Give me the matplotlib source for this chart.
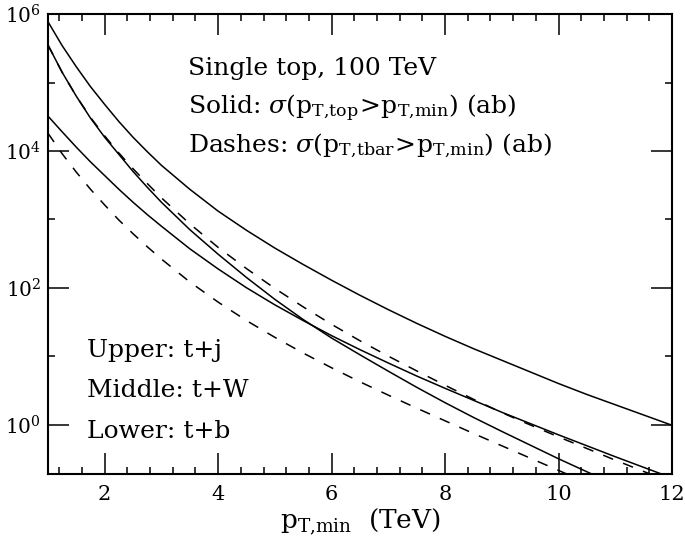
import numpy as np
import matplotlib
matplotlib.use('Agg')
import matplotlib.pyplot as plt
from matplotlib.ticker import FixedLocator, MultipleLocator, NullFormatter

plt.rcParams['font.family'] = 'DejaVu Serif'
plt.rcParams['mathtext.fontset'] = 'dejavuserif'

# pT,min grid (TeV) and log10(sigma / ab)
pt = [1.0, 1.25, 1.5, 1.75, 2.0, 2.25, 2.5, 2.75, 3.0, 3.5, 4.0, 4.5, 5.0, 5.5,
      6.0, 6.5, 7.0, 7.5, 8.0, 8.5, 9.0, 9.5, 10.0, 10.5, 11.0, 11.5, 12.0]
# solid: top quark
tj_top = [5.89, 5.54, 5.23, 4.94, 4.68, 4.43, 4.20, 3.99, 3.79, 3.44, 3.12, 2.84, 2.58, 2.34,
          2.11, 1.89, 1.68, 1.48, 1.29, 1.11, 0.94, 0.77, 0.60, 0.44, 0.29, 0.14, -0.01]
tW_top = [5.55, 5.15, 4.80, 4.48, 4.20, 3.95, 3.70, 3.47, 3.25, 2.85, 2.49, 2.15, 1.83, 1.535,
          1.265, 1.02, 0.78, 0.545, 0.32, 0.105, -0.10, -0.30, -0.50, -0.69, -0.88, -1.07, -1.26]
tb_top = [4.51, 4.28, 4.055, 3.84, 3.64, 3.44, 3.25, 3.07, 2.90, 2.57, 2.275, 2.00, 1.75, 1.52,
          1.30, 1.095, 0.90, 0.71, 0.53, 0.355, 0.18, 0.015, -0.15, -0.31, -0.47, -0.625, -0.78]
# dashes: anti-top
tj_bar = [5.55, 5.15, 4.80, 4.49, 4.22, 3.97, 3.74, 3.525, 3.315, 2.935, 2.59, 2.28, 1.99, 1.72,
          1.465, 1.225, 1.00, 0.785, 0.575, 0.37, 0.175, -0.005, -0.18, -0.35, -0.52, -0.685, -0.85]
tb_bar = [4.26, 3.96, 3.69, 3.44, 3.21, 2.99, 2.79, 2.60, 2.42, 2.085, 1.79, 1.52, 1.275, 1.045,
          0.83, 0.625, 0.43, 0.24, 0.055, -0.13, -0.31, -0.49, -0.67, -0.85, -1.03, -1.21, -1.39]

fig = plt.figure(figsize=(6.85, 5.44), dpi=100)
ax = fig.add_axes([0.070, 0.129, 0.911, 0.845])

for vals in (tj_top, tW_top, tb_top):
    ax.plot(pt, 10 ** np.array(vals), color='black', lw=1.1)
for vals in (tj_bar, tb_bar):
    ax.plot(pt, 10 ** np.array(vals), color='black', lw=1.1, ls=(0, (7, 7)))

ax.set_yscale('log')
ax.set_xlim(1, 12)
ax.set_ylim(10 ** -0.72, 1e6)

ax.xaxis.set_major_locator(MultipleLocator(2))
ax.xaxis.set_minor_locator(MultipleLocator(0.4))
ax.yaxis.set_major_locator(FixedLocator([1e0, 1e2, 1e4, 1e6]))
ax.yaxis.set_minor_locator(FixedLocator([1e1, 1e3, 1e5]))
ax.yaxis.set_minor_formatter(NullFormatter())
ax.set_yticklabels(['$10^0$', '$10^2$', '$10^4$', '$10^6$'])

ax.tick_params(which='both', direction='in', top=True, right=True, width=1.1)
ax.tick_params(which='major', length=15, labelsize=15, pad=8)
ax.tick_params(which='minor', length=5)
ax.tick_params(axis='y', which='major', labelsize=14.5, pad=5)
for s in ax.spines.values():
    s.set_linewidth(1.5)

ax.set_xlabel(r'$\mathrm{p_{T{,}min}}$  (TeV)', fontsize=19, labelpad=2)

fs = 18
ax.text(0.224, 0.867, 'Single top, 100 TeV', transform=ax.transAxes, fontsize=fs)
ax.text(0.224, 0.783, r'Solid: $\sigma(\mathrm{p_{T{,}top}}\!>\!\mathrm{p_{T{,}min}})$ (ab)',
        transform=ax.transAxes, fontsize=fs)
ax.text(0.224, 0.700, r'Dashes: $\sigma(\mathrm{p_{T{,}tbar}}\!>\!\mathrm{p_{T{,}min}})$ (ab)',
        transform=ax.transAxes, fontsize=fs)
ax.text(0.0625, 0.254, 'Upper: t+j', transform=ax.transAxes, fontsize=fs)
ax.text(0.0625, 0.167, 'Middle: t+W', transform=ax.transAxes, fontsize=fs)
ax.text(0.0625, 0.078, 'Lower: t+b', transform=ax.transAxes, fontsize=fs)

fig.savefig('out.png', dpi=100)
